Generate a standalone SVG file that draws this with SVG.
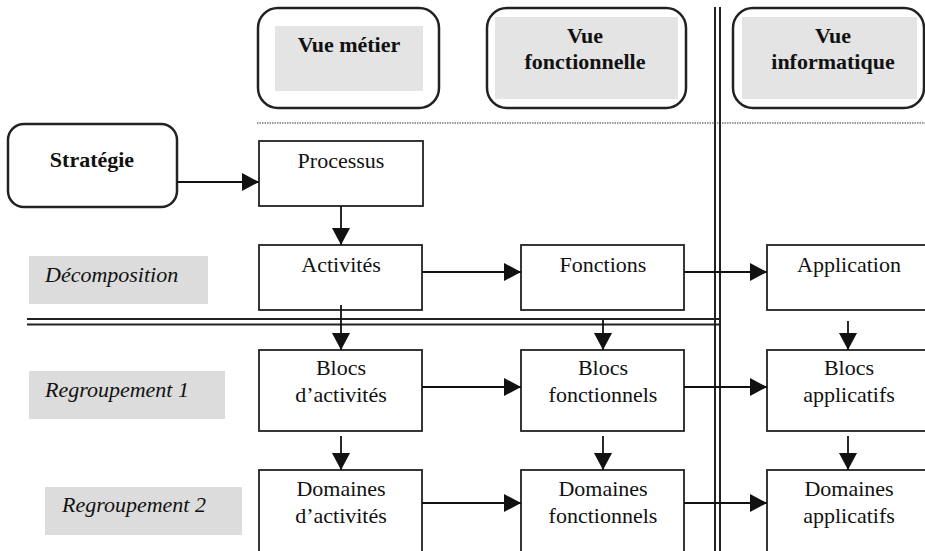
<svg xmlns="http://www.w3.org/2000/svg" width="925" height="551" viewBox="0 0 925 551">
<style>
  .hdr { fill: #ffffff; stroke: #222; stroke-width: 2.5; }
  .hdrfill { fill: #e4e4e4; }
  .box { fill: #ffffff; stroke: #222; stroke-width: 1.8; }
  .lbl { fill: #dcdcdc; }
  text { font-family: "Liberation Serif", "Times New Roman", serif; font-size: 22px; fill: #111; }
  .b { font-weight: bold; }
  .i { font-style: italic; }
  .c { text-anchor: middle; }
  .conn { stroke: #111; stroke-width: 1.8; fill: none; marker-end: url(#ah); }
  .sep { stroke: #222; stroke-width: 2; fill: none; }
</style>
<defs>
  <marker id="ah" markerUnits="userSpaceOnUse" markerWidth="20" markerHeight="20" refX="17" refY="9" orient="auto">
    <path d="M0,0 L17,9 L0,18 Z" fill="#111"/>
  </marker>
</defs>
<rect width="925" height="551" fill="#ffffff"/>

<!-- separators -->
<g id="separators">
  <line x1="257" y1="123" x2="925" y2="123" stroke="#777" stroke-width="1.5" stroke-dasharray="1.5,1"/>
  <line class="sep" x1="715" y1="7" x2="715" y2="551"/>
  <line class="sep" x1="720" y1="7" x2="720" y2="551"/>
  <line class="sep" x1="27" y1="319" x2="719" y2="319"/>
  <line class="sep" x1="27" y1="324.5" x2="719" y2="324.5"/>
</g>

<!-- headers -->
<g id="vue-metier">
  <rect class="hdr" x="258" y="8" width="181" height="100" rx="20"/>
  <rect class="hdrfill" x="275" y="26" width="148" height="65"/>
  <text class="b c" x="349" y="52">Vue métier</text>
</g>
<g id="vue-fonctionnelle">
  <rect class="hdr" x="487" y="8" width="199" height="100" rx="20"/>
  <rect class="hdrfill" x="495" y="17" width="183" height="82"/>
  <text class="b c" x="585" y="43">Vue</text>
  <text class="b c" x="585" y="69">fonctionnelle</text>
</g>
<g id="vue-informatique">
  <rect class="hdr" x="733" y="8" width="191" height="100" rx="20"/>
  <rect class="hdrfill" x="742" y="17" width="175" height="82"/>
  <text class="b c" x="833" y="43">Vue</text>
  <text class="b c" x="833" y="69">informatique</text>
</g>

<!-- row labels -->
<g id="strategie">
  <rect class="hdr" x="8" y="124" width="169" height="83" rx="16"/>
  <text class="b c" x="92" y="167">Stratégie</text>
</g>
<g id="label-decomposition">
  <rect class="lbl" x="29" y="256" width="179" height="48"/>
  <text class="i" x="45" y="282">Décomposition</text>
</g>
<g id="label-regroupement1">
  <rect class="lbl" x="29" y="371" width="196" height="48"/>
  <text class="i" x="45" y="397">Regroupement 1</text>
</g>
<g id="label-regroupement2">
  <rect class="lbl" x="45" y="487" width="197" height="48"/>
  <text class="i" x="62" y="512">Regroupement 2</text>
</g>

<!-- metier column -->
<g id="processus">
  <rect class="box" x="259" y="141" width="164" height="65"/>
  <text class="c" x="341" y="168">Processus</text>
</g>
<g id="activites">
  <rect class="box" x="259" y="245" width="163" height="65"/>
  <text class="c" x="341" y="272">Activités</text>
</g>
<g id="blocs-activites">
  <rect class="box" x="259" y="350" width="163" height="81"/>
  <text class="c" x="341" y="375">Blocs</text>
  <text class="c" x="341" y="402">d’activités</text>
</g>
<g id="domaines-activites">
  <rect class="box" x="259" y="470" width="163" height="90"/>
  <text class="c" x="341" y="496">Domaines</text>
  <text class="c" x="341" y="523">d’activités</text>
</g>

<!-- fonctionnel column -->
<g id="fonctions">
  <rect class="box" x="521" y="245" width="163" height="65"/>
  <text class="c" x="603" y="272">Fonctions</text>
</g>
<g id="blocs-fonctionnels">
  <rect class="box" x="521" y="350" width="163" height="81"/>
  <text class="c" x="603" y="375">Blocs</text>
  <text class="c" x="603" y="402">fonctionnels</text>
</g>
<g id="domaines-fonctionnels">
  <rect class="box" x="521" y="470" width="163" height="90"/>
  <text class="c" x="603" y="496">Domaines</text>
  <text class="c" x="603" y="523">fonctionnels</text>
</g>

<!-- informatique column -->
<g id="application">
  <rect class="box" x="767" y="245" width="170" height="65"/>
  <text class="c" x="849" y="272">Application</text>
</g>
<g id="blocs-applicatifs">
  <rect class="box" x="767" y="350" width="170" height="81"/>
  <text class="c" x="849" y="375">Blocs</text>
  <text class="c" x="849" y="402">applicatifs</text>
</g>
<g id="domaines-applicatifs">
  <rect class="box" x="767" y="470" width="170" height="90"/>
  <text class="c" x="849" y="496">Domaines</text>
  <text class="c" x="849" y="523">applicatifs</text>
</g>

<!-- connectors -->
<g id="connectors">
  <line class="conn" x1="177" y1="182" x2="259" y2="182"/>
  <line class="conn" x1="341" y1="206" x2="341" y2="245"/>
  <line class="conn" x1="422" y1="272" x2="521" y2="272"/>
  <line class="conn" x1="684" y1="272" x2="767" y2="272"/>
  <line class="conn" x1="341" y1="305" x2="341" y2="350"/>
  <line class="conn" x1="603" y1="320" x2="603" y2="350"/>
  <line class="conn" x1="848" y1="321" x2="848" y2="350"/>
  <line class="conn" x1="422" y1="387" x2="521" y2="387"/>
  <line class="conn" x1="684" y1="387" x2="767" y2="387"/>
  <line class="conn" x1="341" y1="436" x2="341" y2="470"/>
  <line class="conn" x1="603" y1="436" x2="603" y2="470"/>
  <line class="conn" x1="848" y1="436" x2="848" y2="470"/>
  <line class="conn" x1="422" y1="503" x2="521" y2="503"/>
  <line class="conn" x1="684" y1="503" x2="767" y2="503"/>
</g>
</svg>
